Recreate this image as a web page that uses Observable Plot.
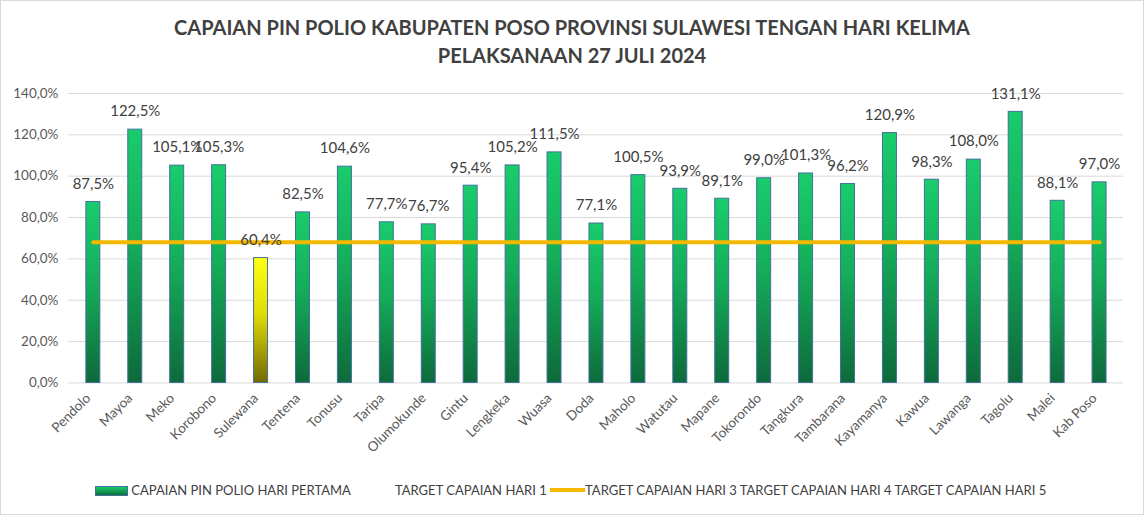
<!DOCTYPE html>
<html>
<head>
<meta charset="utf-8">
<script src="https://cdn.jsdelivr.net/npm/d3@7"></script>
<script src="https://cdn.jsdelivr.net/npm/@observablehq/plot@0.6"></script>
<style>
  html, body { margin: 0; padding: 0; background: #fff; }
  #frame { position: relative; width: 1142px; height: 513px; border: 1px solid #d9d9d9; overflow: hidden; font-family: Lato, "Open Sans", sans-serif; }
  #title { position: absolute; left: 0; top: 12px; width: 1142px; text-align: center; font-weight: bold; font-size: 20px; line-height: 28px; color: #404040; }
  #chart { position: absolute; left: -1px; top: 74px; }
  #legend { position: absolute; left: 0; top: 481px; width: 1142px; font-size: 13px; color: #404040; }
  #legend span { position: absolute; top: 0; white-space: nowrap; }
  .sw-bar { display: inline-block; width: 33px; height: 10px; background: linear-gradient(#18c96a, #0f6e3e); border: 1px solid #41719c; box-sizing: border-box; vertical-align: -1px; }
  .sw-line { display: inline-block; width: 35px; height: 4px; background: #f5b800; vertical-align: 3px; }
</style>
</head>
<body>
<div id="frame">
  <div id="title">CAPAIAN PIN POLIO KABUPATEN POSO PROVINSI SULAWESI TENGAN HARI KELIMA<br>PELAKSANAAN 27 JULI 2024</div>
  <div id="chart"></div>
  <div id="legend"></div>
</div>
<script>
const categories = ["Pendolo","Mayoa","Meko","Korobono","Sulewana","Tentena","Tonusu","Taripa","Olumokunde","Gintu","Lengkeka","Wuasa","Doda","Maholo","Watutau","Mapane","Tokorondo","Tangkura","Tambarana","Kayamanya","Kawua","Lawanga","Tagolu","Malei","Kab Poso"];
const capaian = [87.5,122.5,105.1,105.3,60.4,82.5,104.6,77.7,76.7,95.4,105.2,111.5,77.1,100.5,93.9,89.1,99.0,101.3,96.2,120.9,98.3,108.0,131.1,88.1,97.0];
const targetValue = 68;
const highlighted = ["Sulewana"];
const yTicks = [0,20,40,60,80,100,120,140];
const legendItems = ["CAPAIAN PIN POLIO HARI PERTAMA","TARGET CAPAIAN HARI 1","TARGET CAPAIAN HARI 3 TARGET CAPAIAN HARI 4 TARGET CAPAIAN HARI 5"];

const data = categories.map((c, i) => ({cat: c, value: capaian[i], target: targetValue}));
const fmt = v => v.toFixed(1).replace(".", ",") + "%";

const plot = Plot.plot({
  width: 1145,
  height: 396,
  marginLeft: 68,
  marginRight: 20,
  marginTop: 18,
  marginBottom: 88,
  style: {fontFamily: "Lato, 'Open Sans', sans-serif", fontSize: "13.5px", color: "#595959", background: "transparent"},
  x: {domain: categories, paddingInner: 0.67, paddingOuter: 0.335, label: null},
  y: {domain: [0, 140], ticks: yTicks, label: null, tickSize: 0, tickPadding: 10, tickFormat: d => d.toFixed(1).replace(".", ",") + "%"},
  marks: [
    () => {
      const s = d3.create("svg:defs");
      const g = s.append("linearGradient").attr("id", "gGreen").attr("x1", 0).attr("y1", 0).attr("x2", 0).attr("y2", 1);
      g.append("stop").attr("offset", "0%").attr("stop-color", "#19cc6c");
      g.append("stop").attr("offset", "45%").attr("stop-color", "#15ad5a");
      g.append("stop").attr("offset", "100%").attr("stop-color", "#0e6a3b");
      const y = s.append("linearGradient").attr("id", "gYellow").attr("x1", 0).attr("y1", 0).attr("x2", 0).attr("y2", 1);
      y.append("stop").attr("offset", "0%").attr("stop-color", "#ffff12");
      y.append("stop").attr("offset", "45%").attr("stop-color", "#e0dc08");
      y.append("stop").attr("offset", "100%").attr("stop-color", "#736a00");
      return s.node();
    },
    Plot.gridY(yTicks, {stroke: "#d9d9d9", strokeOpacity: 1, strokeWidth: 1}),
    Plot.axisX({tickRotate: -45, tickSize: 0, tickPadding: 13, dx: -5, label: null}),
    Plot.barY(data.filter(d => !highlighted.includes(d.cat)), {x: "cat", y: "value", fill: "url(#gGreen)", stroke: "#41719c", strokeWidth: 1}),
    Plot.barY(data.filter(d => highlighted.includes(d.cat)), {x: "cat", y: "value", fill: "url(#gYellow)", stroke: "#41719c", strokeWidth: 1}),
    Plot.lineY(data, {x: "cat", y: "target", stroke: "#f5b800", strokeWidth: 4}),
    Plot.text(data, {x: "cat", y: "value", text: d => fmt(d.value), dy: -18, fill: "#404040", fontSize: 15})
  ]
});
document.getElementById("chart").appendChild(plot);

const legend = document.getElementById("legend");
legend.innerHTML =
  `<span style="left:94px"><i class="sw-bar"></i> ${legendItems[0]}</span>` +
  `<span style="left:394px">${legendItems[1]} <i class="sw-line"></i>${legendItems[2]}</span>`;
</script>
</body>
</html>
